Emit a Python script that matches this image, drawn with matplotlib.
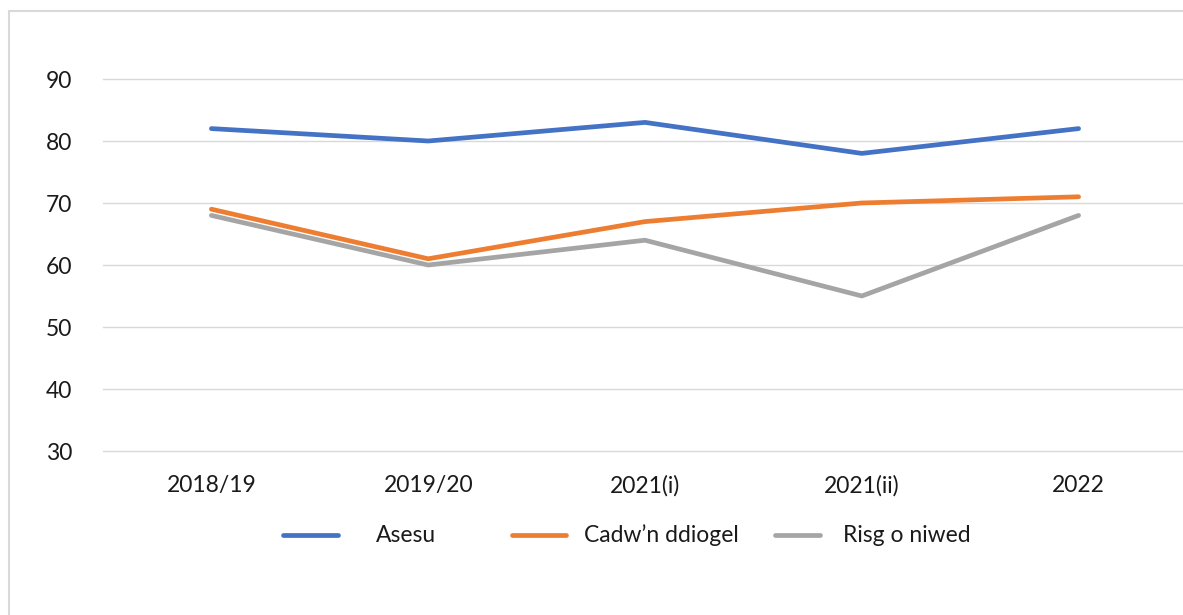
import matplotlib.pyplot as plt
from matplotlib.lines import Line2D
import matplotlib.patches as patches

periods = ['2018/19', '2019/20', '2021(i)', '2021(ii)', '2022']
asesu = [82, 80, 83, 78, 82]
cadw = [69, 61, 67, 70, 71]
risg = [68, 60, 64, 55, 68]
labels = ['Asesu', 'Cadw\u2019n ddiogel', 'Risg o niwed']
colors = ['#4472C4', '#ED7D31', '#A5A5A5']

plt.rcParams['font.family'] = ['Lato', 'DejaVu Sans']

W, H = 1183, 615
fig = plt.figure(figsize=(W / 100, H / 100), dpi=100)

# outer chart frame (right/bottom edges fall off the image)
fig.patches.append(patches.Rectangle((9 / W, -0.2), 1.2, 1 - 11 / H + 0.2,
                                     transform=fig.transFigure, fill=False,
                                     edgecolor='#d9d9d9', lw=1.5))

ax = fig.add_axes([103 / W, 1 - 451 / H, 1084 / W, 372 / H])
x = range(len(periods))
series = [asesu, cadw, risg]
for vals, c in zip(series, colors):
    ax.plot(x, vals, color=c, lw=3.4, solid_capstyle='round',
            solid_joinstyle='round', zorder=3)

ax.set_xlim(-0.5, len(periods) - 0.5)
ax.set_ylim(30, 90)
ax.set_yticks(range(30, 91, 10))
ax.set_xticks(list(x))
ax.set_xticklabels(periods)
ax.grid(axis='y', color='#d9d9d9', lw=1)
for gl in ax.get_ygridlines():
    gl.set_clip_on(False)
ax.set_axisbelow(True)
for s in ax.spines.values():
    s.set_visible(False)
ax.tick_params(length=0, labelsize=16.5, labelcolor='#1a1a1a')
ax.tick_params(axis='y', pad=22)
ax.tick_params(axis='x', pad=17)

# legend drawn by hand to match the uneven spacing
handle_x = [(283, 338), (512, 566), (775, 820)]
text_x = [376, 584, 843]
ly = 1 - 535 / H
for (x0, x1), tx, lab, c in zip(handle_x, text_x, labels, colors):
    fig.add_artist(Line2D([x0 / W, x1 / W], [ly, ly], transform=fig.transFigure,
                          color=c, lw=3.4, solid_capstyle='round'))
    fig.text(tx / W, ly, lab, fontsize=16.5, color='#1a1a1a', va='center', ha='left')

fig.savefig('out.png', dpi=100)
